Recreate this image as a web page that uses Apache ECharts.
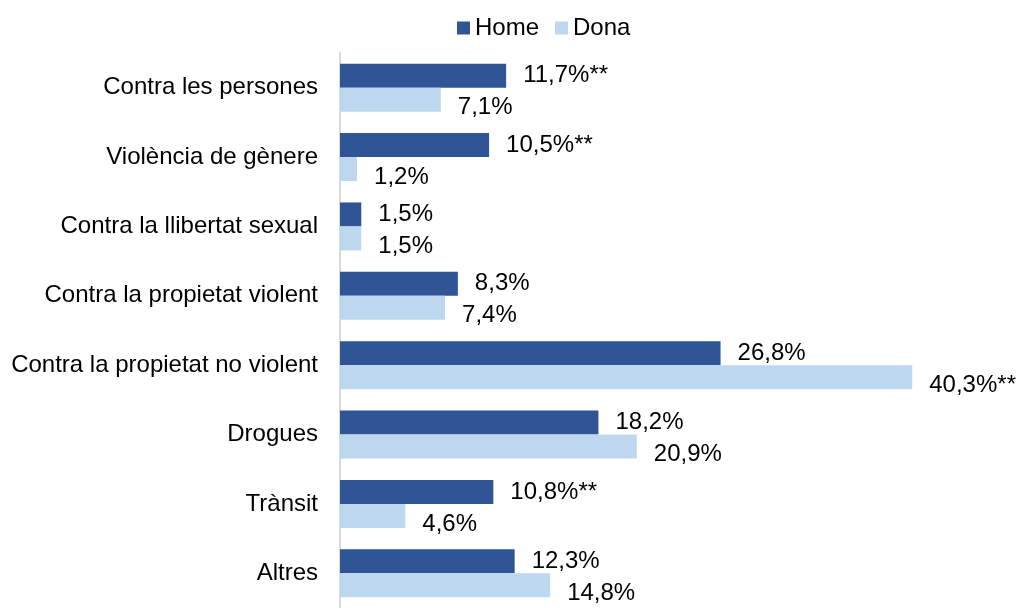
<!DOCTYPE html>
<html>
<head>
<meta charset="utf-8">
<script src="https://cdn.jsdelivr.net/npm/echarts@6/dist/echarts.min.js"></script>
<style>
html,body{margin:0;padding:0;background:#fff;}
#chart{width:1017px;height:608px;}
</style>
</head>
<body>
<div id="chart"></div>
<script>
const categories = ['Contra les persones','Violència de gènere','Contra la llibertat sexual','Contra la propietat violent','Contra la propietat no violent','Drogues','Trànsit','Altres'];
const homeValues = [11.7, 10.5, 1.5, 8.3, 26.8, 18.2, 10.8, 12.3];
const donaValues = [7.1, 1.2, 1.5, 7.4, 40.3, 20.9, 4.6, 14.8];
const homeMarks = ['**','**','','','','','**',''];
const donaMarks = ['','','','','**','','',''];

const FONT = 'Liberation Sans, Arial, sans-serif';
const FS = 24;
function fmt(marks){
  return p => p.value.toFixed(1).replace('.', ',') + '%' + marks[p.dataIndex];
}
const chart = echarts.init(document.getElementById('chart'));
chart.setOption({
  animation: false,
  textStyle: {fontFamily: FONT},
  legend: {
    top: 11, left: 452,
    itemWidth: 13, itemHeight: 13, itemGap: 16,
    icon: 'rect',
    textStyle: {fontSize: FS, color: '#000', fontFamily: FONT},
    data: ['Home','Dona']
  },
  grid: {left: 340, top: 53, width: 639, height: 560, containLabel: false},
  xAxis: {
    type: 'value', min: 0, max: 45,
    show: false
  },
  yAxis: {
    type: 'category', data: categories, inverse: true,
    axisLine: {lineStyle: {color: '#d9d9d9', width: 2}},
    axisTick: {show: false},
    axisLabel: {fontSize: FS, color: '#000', margin: 22, fontFamily: FONT}
  },
  series: [
    {
      name: 'Home', type: 'bar', data: homeValues,
      barWidth: 24, barGap: '0%',
      itemStyle: {color: '#2F5597'},
      label: {show: true, position: 'right', distance: 17, fontSize: FS, color: '#000', fontFamily: FONT, formatter: fmt(homeMarks)}
    },
    {
      name: 'Dona', type: 'bar', data: donaValues,
      barWidth: 24, barGap: '0%',
      itemStyle: {color: '#BDD7EE'},
      label: {show: true, position: 'right', distance: 17, offset: [0, 8], fontSize: FS, color: '#000', fontFamily: FONT, formatter: fmt(donaMarks)}
    }
  ]
});
</script>
</body>
</html>
